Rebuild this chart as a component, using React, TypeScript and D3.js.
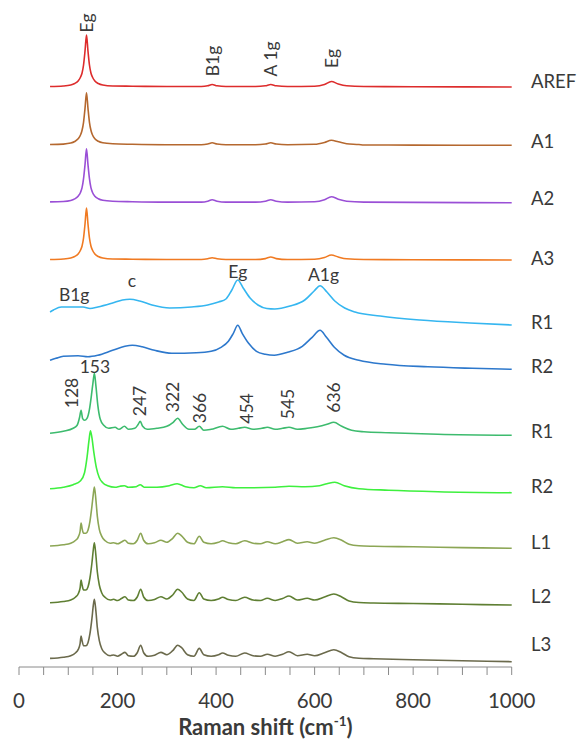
import React from "react";
import * as d3 from "d3";

// ---------- DATA ----------
// Raman shift (cm-1) vs intensity (a.u., above each trace's baseline)
const arefI: [number, number][] = [[63,0.5],[90,1],[105,2],[113,3.5],[120,6],[125,10],[128,14],[131,22],[134,36],[137,52],[140,36],[143,22],[146,14],[149,10],[154,6],[161,3.5],[170,2],[190,1],[230,0.8],[300,0.5],[370,0.5],[383,1.2],[392,2.5],[402,1.2],[420,0.5],[480,0.5],[500,1.2],[511,2.5],[522,1.2],[545,0.5],[600,0.8],[620,2.5],[634,5.5],[648,3],[665,1.2],[700,0.5],[800,0.3],[1000,0]];
const a1I: [number, number][] = [[63,0.8],[90,1.2],[105,2.2],[113,3.8],[120,6.5],[125,10.5],[128,15],[131,23],[134,37],[137,52.5],[140,37],[143,23],[146,15],[149,10.5],[154,6.5],[161,4],[170,2.5],[190,1.5],[230,1],[300,0.6],[370,0.6],[383,1.3],[392,2.5],[402,1.3],[420,0.6],[480,0.6],[500,1.3],[511,2.5],[522,1.3],[545,0.6],[600,1],[620,2.8],[634,5],[648,3.5],[665,1.5],[690,0.8],[700,0.3],[800,0.2],[1000,0]];
const a2I: [number, number][] = [[63,0.8],[90,1.2],[105,2.2],[113,3.8],[120,6.5],[125,10.5],[128,15],[131,24],[134,38],[137,54],[140,38],[143,24],[146,15],[149,10.5],[154,6.5],[161,4],[170,2.5],[190,1.5],[230,1],[300,0.6],[370,0.6],[383,1.5],[392,3],[402,1.5],[420,0.6],[480,0.6],[500,1.5],[511,3],[522,1.5],[545,0.6],[600,1],[620,3],[634,6],[648,3.5],[665,1.5],[700,0.6],[800,0.3],[1000,0]];
const a3I: [number, number][] = [[63,0.5],[90,1],[105,2],[113,3.5],[120,6],[125,10],[128,14],[131,22],[134,36],[137,52],[140,36],[143,22],[146,14],[149,10],[154,6],[161,3.5],[170,2],[190,1],[230,0.8],[300,0.5],[370,0.5],[383,1.2],[392,2.2],[402,1.2],[420,0.5],[480,0.5],[500,1.4],[511,3],[522,1.4],[545,0.5],[600,0.8],[620,2.5],[634,5],[648,3],[665,1.2],[700,0.5],[800,0.3],[1000,0]];
const r1bI: [number, number][] = [[63,13],[70,15],[86,18],[110,18],[130,18],[144,16.5],[160,18],[190,22],[210,25],[225,25.7],[245,24],[270,20],[306,17],[350,18],[383,20],[405,23],[420,26],[432,35],[444,45],[455,37],[469,27],[485,20],[503,16.5],[519,16],[550,19],[580,25],[599,34],[611,39.3],[625,33],[641,24],[661,17],[682,13],[733,9],[814,5],[915,2],[1000,0]];
const r2bI: [number, number][] = [[63,9],[75,11],[90,13],[120,13.5],[140,12.5],[160,14],[190,19],[215,23],[230,24],[250,22.5],[275,19],[310,16],[360,16.5],[390,18],[410,22],[425,28],[435,36],[444,44],[453,36],[466,26],[482,18],[500,15],[518,14],[545,17],[575,23],[595,32],[611,39],[624,32],[640,22],[660,14],[690,9],[745,5],[830,2.5],[920,1],[1000,0]];
const r1gI: [number, number][] = [[63,2],[90,4],[110,7],[118,10],[123,18],[126,25],[129,17],[133,15],[138,17],[143,26],[147,40],[150,52],[153,62],[156,50],[160,30],[165,16],[172,10],[182,7],[195,8],[203,6],[214,9],[222,6],[235,7],[242,11],[246,14],[251,9],[260,6],[280,7],[300,9],[313,13],[322,17],[332,11],[345,6],[356,6],[366,9],[375,5],[390,6],[413,9],[430,6],[445,7],[458,8],[475,6],[493,7],[504,8],[520,6],[535,7],[548,8],[565,6],[585,7],[610,9],[625,11],[639,13],[655,9],[675,5],[700,3.5],[750,2.5],[850,1],[1000,0]];
const r2gI: [number, number][] = [[63,4],[90,5.5],[110,8],[125,12],[133,20],[138,35],[142,52],[145,62],[148,55],[152,40],[157,25],[163,15],[170,10],[180,7],[195,5.5],[205,6.5],[214,7],[222,5.5],[238,6],[246,8],[254,5.5],[280,5.5],[305,7],[321,9],[338,6],[355,5],[368,7],[380,5],[413,6],[440,5],[470,5],[520,5.5],[548,6.5],[580,6],[610,7],[625,9],[641,10.5],[660,7],[690,4],[750,2.5],[850,1],[1000,0]];
const l1I: [number, number][] = [[63,2.3],[90,3.5],[105,5],[115,8],[120,11],[124,17],[126,25.3],[128,20],[131,15],[136,15],[140,18],[144,27],[148,42],[151,55],[153,61.3],[156,49],[159,32],[163,19],[168,12],[175,7.5],[185,5],[192,5.5],[200,4.5],[208,6.3],[215,8],[222,5],[232,4.5],[240,8],[247,15],[253,8],[262,4.5],[275,5.5],[288,8],[300,6],[312,10],[322,15],[330,12.5],[342,6],[355,4.5],[366,12],[375,6],[390,4.5],[405,6],[413,7.5],[425,5.5],[440,4.5],[458,7.5],[475,5],[490,4.5],[504,6.5],[520,4.5],[535,6.5],[548,8.7],[565,5],[585,6.5],[600,5],[620,8],[639,10.5],[655,8],[670,4],[690,2.5],[720,2],[800,1.5],[900,0.7],[1000,0]];
const l2I: [number, number][] = [[63,2.3],[90,3.5],[105,5],[115,8],[120,11],[124,17],[126,25],[128,20],[131,15],[136,15],[140,18],[144,27],[148,42],[151,56],[153,62.3],[156,50],[159,33],[163,20],[168,12],[175,7.5],[185,5],[192,5.7],[200,4.5],[208,6.5],[215,8.3],[222,5],[232,4.5],[240,8],[247,15.7],[253,8],[262,4.5],[275,5.5],[288,8.3],[300,6],[312,10],[322,15.7],[330,13],[342,6],[355,4.5],[366,12.3],[375,6],[390,4.5],[405,6],[413,7.7],[425,5.5],[440,4.5],[458,7.7],[475,5],[490,4.5],[504,6.7],[520,4.5],[535,6.5],[548,9],[565,5],[585,6.7],[600,5],[620,8],[639,11],[655,8],[670,4],[690,2.5],[720,2],[800,1.5],[900,0.7],[1000,0]];
const l3I: [number, number][] = [[63,3.3],[90,4.5],[105,6],[115,9],[120,12],[124,18],[126,25.7],[128,21],[131,16],[136,16],[140,19],[144,28],[148,43],[151,57],[153,62.3],[156,51],[159,34],[163,21],[168,13],[175,8.5],[185,6],[192,6.7],[200,5.5],[208,7.5],[215,9.3],[222,6],[232,5.5],[240,9],[247,16.5],[253,9],[262,5.5],[275,6.5],[288,9.3],[300,7],[312,11],[322,16.5],[330,14],[342,7],[355,5.5],[366,13.3],[375,7],[390,5.5],[405,7],[413,8.7],[425,6.5],[440,5.5],[458,8.7],[475,6],[490,5.5],[504,7.5],[520,5.5],[535,7.5],[548,10],[565,6],[585,7.5],[600,6],[620,9],[639,12],[655,9],[670,5],[690,3.5],[720,3],[800,2],[900,1],[1000,0]];

const seriesNames = ["AREF", "A1", "A2", "A3", "R1", "R2", "R1", "R2", "L1", "L2", "L3"];
const seriesData = [arefI, a1I, a2I, a3I, r1bI, r2bI, r1gI, r2gI, l1I, l2I, l3I];
// vertical stacking offsets (a.u.)
const seriesOffsets = [580, 521.7, 464.3, 407, 342, 297.7, 231.7, 174.3, 118.7, 62, 5.3];
// label level of each series name (a.u.)
const seriesLabelLevels = [585, 525, 468.7, 408.7, 344, 300, 235.3, 180.3, 124, 70.3, 22];
const seriesColors = ["#dd2c2c", "#b5682f", "#9a4fd6", "#f07a22", "#35b6f0", "#2d78cc", "#3dbb6e", "#3ef03e", "#8ca655", "#5f7f33", "#6b6a4c"];

// peak annotations: text, Raman shift, level (a.u.), rotated
const annoText = ["Eg", "B1g", "A 1g", "Eg", "B1g", "c", "Eg", "A1g", "128", "153", "247", "322", "366", "454", "545", "636"];
const annoShift = [138, 393, 511, 635, 112, 229, 444, 618, 107, 154, 245, 313, 367, 462, 545, 639];
const annoLevel = [644, 606, 608, 608.5, 372, 386, 395, 392, 274, 300, 266, 270, 259, 258.5, 263, 269.5];
const annoRotated = [true, true, true, true, false, false, false, false, true, false, true, true, true, true, true, true];

const xTicks = d3.range(0, 1001, 50);
const xTickLabels = [0, 200, 400, 600, 800, 1000];

export default function App() {
  const W = 579, H = 740;
  const x = d3.scaleLinear().domain([0, 1000]).range([19, 511.7]);
  const y = d3.scaleLinear().domain([0, 667]).range([667, 0]);
  const axisY = y(0);
  const font = "Lato, 'Open Sans', sans-serif";
  const textColor = "#3a3a3a";

  return (
    <svg width={W} height={H} style={{ position: "absolute", left: 0, top: 0, background: "#fff" }} fontFamily={font}>
      <rect width={W} height={H} fill="#fff" />
      {seriesData.map((pts, i) => {
        const line = d3
          .line<[number, number]>()
          .x((d) => x(d[0]))
          .y((d) => y(d[1] + seriesOffsets[i]))
          .curve(d3.curveMonotoneX);
        return <path key={i} d={line(pts) || ""} fill="none" stroke={seriesColors[i]} strokeWidth={1.6} strokeLinejoin="round" />;
      })}
      {seriesNames.map((n, i) => (
        <text key={"n" + i} x={531} y={y(seriesLabelLevels[i])} dy="0.35em" fontSize={18.5} fill={textColor}>
          {n}
        </text>
      ))}
      {annoText.map((t, i) => {
        const px = x(annoShift[i]);
        const py = y(annoLevel[i]);
        return annoRotated[i] ? (
          <text key={"a" + i} transform={`translate(${px},${py}) rotate(-90)`} textAnchor="middle" dy="0.35em" fontSize={17.5} fill={textColor}>
            {t}
          </text>
        ) : (
          <text key={"a" + i} x={px} y={py} textAnchor="middle" dy="0.35em" fontSize={17.5} fill={textColor}>
            {t}
          </text>
        );
      })}
      {/* x axis */}
      <line x1={x(0)} x2={x(1000)} y1={axisY} y2={axisY} stroke="#8a8a8a" strokeWidth={1} />
      {xTicks.map((t) => (
        <line key={"t" + t} x1={x(t)} x2={x(t)} y1={axisY} y2={axisY + 8} stroke="#8a8a8a" strokeWidth={1} />
      ))}
      {xTickLabels.map((t) => (
        <text key={"l" + t} x={x(t)} y={708} textAnchor="middle" fontSize={20.5} fill={textColor}>
          {t}
        </text>
      ))}
      <text x={(x(0) + x(1000)) / 2} y={735} textAnchor="middle" fontSize={22} fontWeight="bold" fill={textColor}>
        Raman shift (cm<tspan dy="-9" fontSize={13.5}>-1</tspan><tspan dy="9">)</tspan>
      </text>
    </svg>
  );
}
